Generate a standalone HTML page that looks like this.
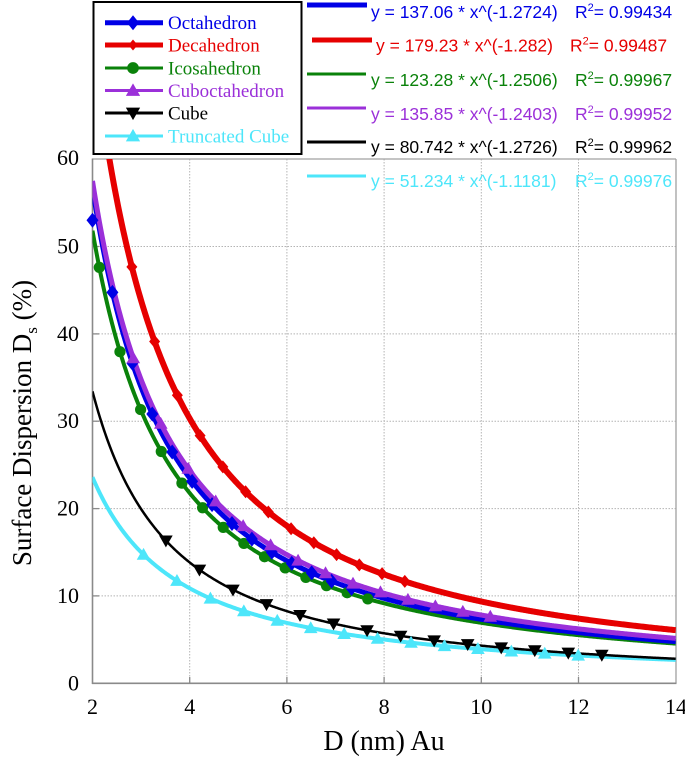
<!DOCTYPE html>
<html>
<head>
<meta charset="utf-8">
<style>
  html,body{margin:0;padding:0;background:#fff;}
  svg{display:block;}
  .serif{font-family:"Liberation Serif","Times New Roman",serif;}
  .sans{font-family:"Liberation Sans",Arial,sans-serif;}
</style>
</head>
<body>
<svg id="s" width="685" height="759" viewBox="0 0 685 759" xmlns="http://www.w3.org/2000/svg">
  <rect x="0" y="0" width="685" height="759" fill="#fff"/>
  <defs>
    <clipPath id="clip"><rect x="92.5" y="159" width="583.5" height="524.3"/></clipPath>
  </defs>
  <!-- grid -->
  <g stroke="#b4b4b4" stroke-width="1" stroke-dasharray="1.5 1.5">
    <line x1="189.7" y1="159" x2="189.7" y2="683.3"/>
    <line x1="286.9" y1="159" x2="286.9" y2="683.3"/>
    <line x1="384.1" y1="159" x2="384.1" y2="683.3"/>
    <line x1="481.3" y1="159" x2="481.3" y2="683.3"/>
    <line x1="578.5" y1="159" x2="578.5" y2="683.3"/>
    <line x1="92.5" y1="595.9" x2="676" y2="595.9"/>
    <line x1="92.5" y1="508.6" x2="676" y2="508.6"/>
    <line x1="92.5" y1="421.2" x2="676" y2="421.2"/>
    <line x1="92.5" y1="333.9" x2="676" y2="333.9"/>
    <line x1="92.5" y1="246.5" x2="676" y2="246.5"/>
  </g>
  <!-- frame -->
  <g stroke="#a0a0a0" stroke-width="1.3" fill="none">
    <line x1="92.5" y1="159" x2="676" y2="159"/>
    <line x1="676" y1="159" x2="676" y2="683.3"/>
  </g>
  <g stroke="#8a8a8a" stroke-width="1.6" fill="none">
    <line x1="92.5" y1="158.5" x2="92.5" y2="684"/>
    <line x1="92" y1="683.3" x2="676.5" y2="683.3"/>
  </g>
  <g stroke="#8a8a8a" stroke-width="1.3">
    <line x1="92.5" y1="595.9" x2="99" y2="595.9"/>
    <line x1="92.5" y1="508.6" x2="99" y2="508.6"/>
    <line x1="92.5" y1="421.2" x2="99" y2="421.2"/>
    <line x1="92.5" y1="333.9" x2="99" y2="333.9"/>
    <line x1="92.5" y1="246.5" x2="99" y2="246.5"/>
    <line x1="189.7" y1="683.3" x2="189.7" y2="677"/>
    <line x1="286.9" y1="683.3" x2="286.9" y2="677"/>
    <line x1="384.1" y1="683.3" x2="384.1" y2="677"/>
    <line x1="481.3" y1="683.3" x2="481.3" y2="677"/>
    <line x1="578.5" y1="683.3" x2="578.5" y2="677"/>
  </g>

  <g id="curves" clip-path="url(#clip)"></g>
  <g id="markers"></g>

  <!-- tick labels -->
  <g class="serif" font-size="22" fill="#000" text-anchor="end">
    <text x="79" y="690.5">0</text>
    <text x="79" y="603">10</text>
    <text x="79" y="515.5">20</text>
    <text x="79" y="428">30</text>
    <text x="79" y="341">40</text>
    <text x="79" y="253.5">50</text>
    <text x="79" y="165">60</text>
  </g>
  <g class="serif" font-size="22" fill="#000" text-anchor="middle">
    <text x="92.5" y="714">2</text>
    <text x="189.7" y="714">4</text>
    <text x="286.9" y="714">6</text>
    <text x="384.1" y="714">8</text>
    <text x="481.3" y="714">10</text>
    <text x="578.5" y="714">12</text>
    <text x="676" y="714">14</text>
  </g>

  <!-- axis titles -->
  <text class="serif" x="384" y="750" font-size="28" text-anchor="middle" fill="#000">D (nm) Au</text>
  <text class="serif" font-size="27" fill="#000" text-anchor="middle" transform="translate(31,423) rotate(-90)">Surface Dispersion D<tspan font-size="17" dy="6">s</tspan><tspan dy="-6"> (%)</tspan></text>

  <!-- legend box -->
  <rect x="93.5" y="2" width="208" height="152" fill="#fff" stroke="#000" stroke-width="2"/>
  <g id="legend"></g>
  <g class="serif" font-size="19">
    <text x="168" y="29" fill="#0000e6">Octahedron</text>
    <text x="168" y="51.5" fill="#e60000">Decahedron</text>
    <text x="168" y="74.5" fill="#0a820a">Icosahedron</text>
    <text x="168" y="97" fill="#9b30d9">Cuboctahedron</text>
    <text x="168" y="119.5" fill="#000">Cube</text>
    <text x="168" y="142.5" fill="#4de6fa">Truncated Cube</text>
  </g>

  <!-- fit equations -->
  <g stroke-linecap="butt">
    <line x1="307" y1="5" x2="367" y2="5" stroke="#0000e6" stroke-width="5"/>
    <line x1="312" y1="40" x2="372" y2="40" stroke="#e60000" stroke-width="5"/>
    <line x1="307" y1="74" x2="366" y2="74" stroke="#0a820a" stroke-width="3"/>
    <line x1="307" y1="108" x2="366" y2="108" stroke="#9b30d9" stroke-width="3"/>
    <line x1="307" y1="142" x2="366" y2="142" stroke="#000" stroke-width="3"/>
    <line x1="307" y1="176" x2="366" y2="176" stroke="#4de6fa" stroke-width="3"/>
  </g>
  <g class="sans" font-size="17.5">
    <text x="371" y="18" fill="#0000e6">y = 137.06 * x^(-1.2724)</text>
    <text x="575" y="18" fill="#0000e6">R<tspan font-size="11" dy="-7">2</tspan><tspan dy="7">= 0.99434</tspan></text>
    <text x="376" y="51.5" fill="#e60000">y = 179.23 * x^(-1.282)</text>
    <text x="570" y="51.5" fill="#e60000">R<tspan font-size="11" dy="-7">2</tspan><tspan dy="7">= 0.99487</tspan></text>
    <text x="371" y="86" fill="#0a820a">y = 123.28 * x^(-1.2506)</text>
    <text x="575" y="86" fill="#0a820a">R<tspan font-size="11" dy="-7">2</tspan><tspan dy="7">= 0.99967</tspan></text>
    <text x="371" y="120" fill="#9b30d9">y = 135.85 * x^(-1.2403)</text>
    <text x="575" y="120" fill="#9b30d9">R<tspan font-size="11" dy="-7">2</tspan><tspan dy="7">= 0.99952</tspan></text>
    <text x="371" y="153" fill="#000">y = 80.742 * x^(-1.2726)</text>
    <text x="575" y="153" fill="#000">R<tspan font-size="11" dy="-7">2</tspan><tspan dy="7">= 0.99962</tspan></text>
    <text x="371" y="187" fill="#4de6fa">y = 51.234 * x^(-1.1181)</text>
    <text x="575" y="187" fill="#4de6fa">R<tspan font-size="11" dy="-7">2</tspan><tspan dy="7">= 0.99976</tspan></text>
  </g>
</svg>
<script>
(function(){
  var NS="http://www.w3.org/2000/svg";
  function X(x){return 92.5+(x-2)*48.6;}
  function Y(v){return 683.3-v*8.736;}
  function el(tag,attrs,parent){var e=document.createElementNS(NS,tag);for(var k in attrs)e.setAttribute(k,attrs[k]);parent.appendChild(e);return e;}
  function marker(type,cx,cy,col,parent,scale){
    scale=scale||1;
    var s;
    if(type==='d'){var w=6*scale,h=7.5*scale;
      el('polygon',{points:(cx)+','+(cy-h)+' '+(cx+w)+','+cy+' '+cx+','+(cy+h)+' '+(cx-w)+','+cy,fill:col},parent);}
    else if(type==='ds'){var w2=5.5*scale,h2=6.5*scale;
      el('polygon',{points:(cx)+','+(cy-h2)+' '+(cx+w2)+','+cy+' '+cx+','+(cy+h2)+' '+(cx-w2)+','+cy,fill:col},parent);}
    else if(type==='c'){el('circle',{cx:cx,cy:cy,r:5.6*scale,fill:col},parent);}
    else if(type==='tu'){s=6.8*scale;
      el('polygon',{points:cx+','+(cy-s)+' '+(cx+s)+','+(cy+s*0.75)+' '+(cx-s)+','+(cy+s*0.75),fill:col},parent);}
    else if(type==='td'){s=6.8*scale;
      el('polygon',{points:cx+','+(cy+s)+' '+(cx+s)+','+(cy-s*0.75)+' '+(cx-s)+','+(cy-s*0.75),fill:col},parent);}
  }
  var series=[
    {c:'#4de6fa',a:51.234,b:-1.1181,w:4,m:'tu',x0:3.05,dx:0.688,n:14},
    {c:'#000000',a:80.742,b:-1.2726,w:2.5,m:'td',x0:3.51,dx:0.69,n:14},
    {c:'#0a820a',a:123.28,b:-1.2506,w:4,m:'c',x0:2.14,dx:0.425,n:14},
    {c:'#0000e6',a:137.06,b:-1.2724,w:5,m:'d',x0:2.0,dx:0.41,n:14,first:53.0},
    {c:'#9b30d9',a:135.85,b:-1.2403,w:5,m:'tu',x0:2.84,dx:0.565,n:14},
    {c:'#e60000',a:179.23,b:-1.282,w:6,m:'ds',x0:2.81,dx:0.468,n:13}
  ];
  var mg=document.getElementById('markers'), cg=document.getElementById('curves');
  series.forEach(function(s){
    var d='';
    for(var x=2;x<=14.0001;x+=0.02){
      var v=s.a*Math.pow(x,s.b);
      d+=(d?'L':'M')+X(x).toFixed(2)+','+Y(v).toFixed(2);
    }
    el('path',{d:d,fill:'none',stroke:s.c,'stroke-width':s.w,'stroke-linejoin':'round'},cg);
  });
  series.forEach(function(s){
    for(var k=0;k<s.n;k++){
      var x=s.x0+k*s.dx;
      var v=s.a*Math.pow(x,s.b);
      if(k===0 && s.first!==undefined) v=s.first;
      marker(s.m,X(x),Y(v),s.c,mg);
    }
  });
  var lg=document.getElementById('legend');
  var rows=[
    {y:22.7,c:'#0000e6',w:5,m:'d',sc:1.0},
    {y:45,c:'#e60000',w:5,m:'ds',sc:0.85},
    {y:68,c:'#0a820a',w:3,m:'c',sc:1.05},
    {y:90.5,c:'#9b30d9',w:3,m:'tu',sc:1.05},
    {y:113,c:'#000000',w:3,m:'td',sc:1.05},
    {y:136,c:'#4de6fa',w:3,m:'tu',sc:1.05}
  ];
  rows.forEach(function(r){
    el('line',{x1:105,y1:r.y,x2:163,y2:r.y,stroke:r.c,'stroke-width':r.w},lg);
    marker(r.m,133,r.y,r.c,lg,r.sc);
  });
})();
</script>
</body>
</html>
